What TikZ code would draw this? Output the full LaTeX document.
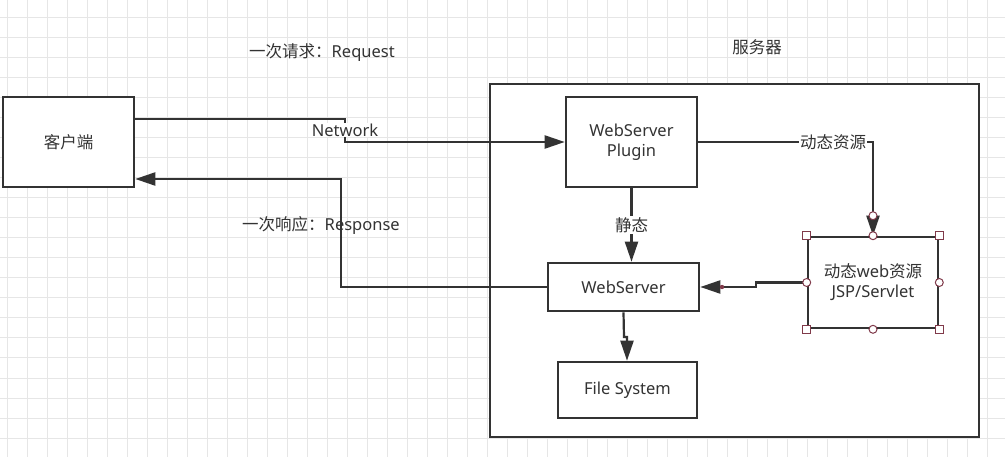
\documentclass[tikz,border=0pt]{standalone}
\usepackage{fontspec}
\setmainfont{Noto Sans}
\newfontfamily\cjk{Noto Sans CJK SC}
\usetikzlibrary{arrows.meta,positioning,calc}
\definecolor{linec}{RGB}{51,51,51}
\definecolor{gridc}{RGB}{230,230,230}
\definecolor{handc}{RGB}{128,58,74}
\newcommand{\txt}{\fontsize{16.5}{20}\selectfont}
\tikzset{
  gline/.style={gridc, line width=1pt},
  box/.style={draw=linec, line width=2.6pt, fill=white, inner sep=0pt,
      font=\txt, text=linec, align=center},
  conn/.style={linec, line width=2.2pt},
  arr/.style={conn, -{Triangle[length=20pt, width=13pt]}},
  lbl/.style={font=\txt, text=linec, inner sep=1pt},
  hsq/.style={draw=handc, fill=white, line width=1pt, minimum size=8pt,
      inner sep=0pt},
  hci/.style={draw=handc, fill=white, line width=1pt, circle,
      minimum size=8pt, inner sep=0pt},
}

\begin{document}
\begin{tikzpicture}[x=1pt, y=-1pt]
\useasboundingbox (0,0) rectangle (1005,457);
\fill[white] (0,0) rectangle (1005,457);
%---- grid
\foreach \gx in {7,27,...,1007} \draw[gline] (\gx,0) -- (\gx,457);
\foreach \gy in {18,38,...,458} \draw[gline] (0,\gy) -- (1005,\gy);

%---- boxes
\node[box, minimum width=489, minimum height=353] (server) at (734.5,260.5) {};
\node[lbl] (servert) at (757,47) {\cjk 服务器};
\node[box, minimum width=131, minimum height=90] (client) at (68.5,142) {\cjk 客户端};
\node[box, minimum width=131, minimum height=90] (plugin) at (631.5,142)
     {WebServer\\Plugin};
\node[box, minimum width=151, minimum height=48] (ws) at (623.5,287) {WebServer};
\node[box, minimum width=139, minimum height=56] (fs) at (627.5,390) {File System};
\node[box, minimum width=130, minimum height=91] (dyn) at (873,282.5)
     {{\cjk 动态}web{\cjk 资源}\\JSP/Servlet};

%---- request / response
\node[lbl] (reqt) at (322,53) {{\cjk 一次请求：}Request};
\node[lbl] (rest) at (321,225) {{\cjk 一次响应：}Response};
\coordinate (reqa) at ($(client.east)+(0,-23)$);
\coordinate (reqb) at (345,119);
\coordinate (reqc) at (345,142);
\draw[arr] (reqa) -- (reqb) -- (reqc) -- (plugin.west);
\node[lbl, fill=white] (net) at (345,130) {Network};
\coordinate (resb) at (341,287);
\draw[arr] (ws.west) -- (resb) -- (resb |- 0,179) -- (client.east |- 0,179);

%---- inside the server
\draw[arr] (plugin.south) -- (plugin.south |- ws.north)
     node[midway, lbl, fill=white] (stat) {\cjk 静态};
\draw[arr] (plugin.east) -| (dyn.north);
\node[lbl, fill=white] (dynt) at (833,142) {\cjk 动态资源};
\coordinate (dyna) at (756,282.5);
\coordinate (dynb) at (756,287);
\draw[arr] (dyn.west) -- (dyna) -- (dynb) -- (ws.east);
\fill[handc] (722,287) circle (2.2pt);
\coordinate (fsa) at (624,337);
\coordinate (fsb) at (627,337);
\draw[arr] (ws.south) -- (fsa) -- (fsb) -- (fsb |- fs.north);

%---- selection handles
\foreach \hp in {north west,north east,south west,south east}
  \node[hsq] at (dyn.\hp) {};
\foreach \hp in {north,south,east,west}
  \node[hci] at (dyn.\hp) {};
\node[hci] (tiph) at ($(dyn.north)+(0,-20)$) {};
\end{tikzpicture}
\end{document}
